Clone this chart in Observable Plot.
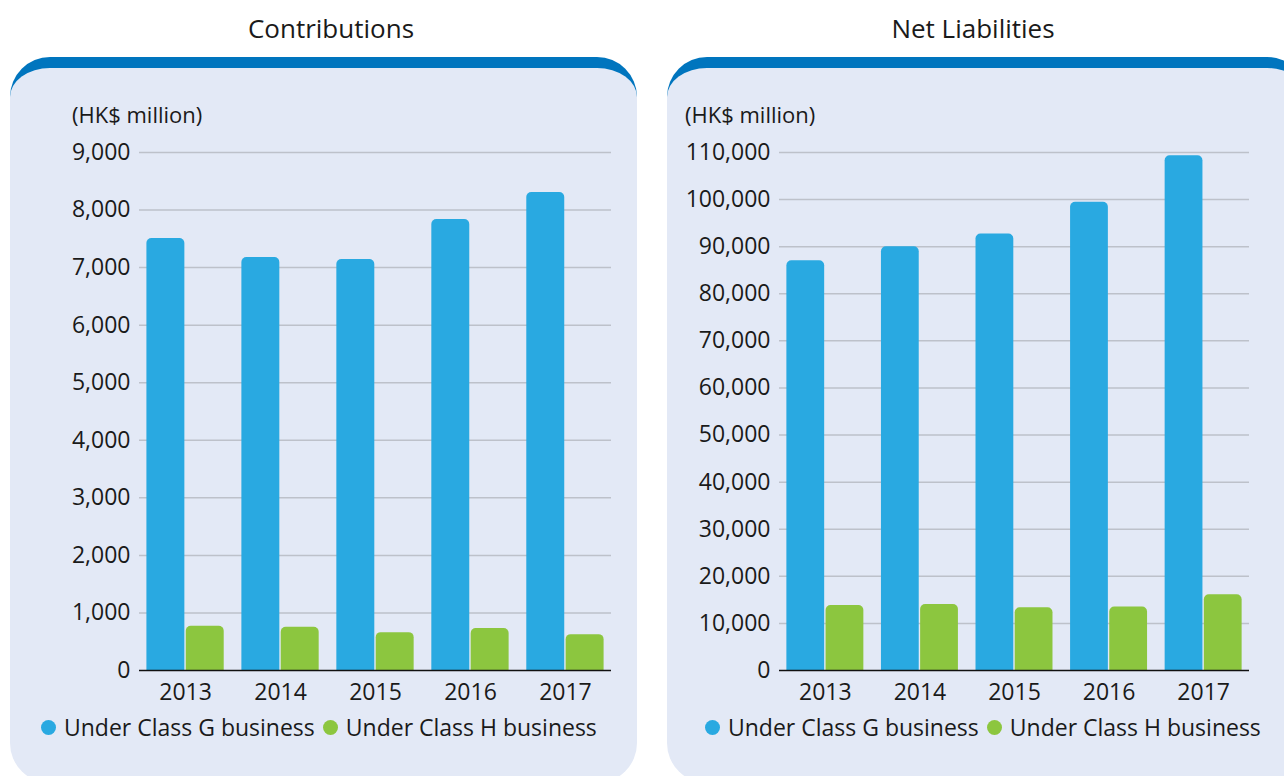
<!DOCTYPE html>
<html>
<head>
<meta charset="utf-8">
<script src="https://cdn.jsdelivr.net/npm/d3@7"></script>
<script src="https://cdn.jsdelivr.net/npm/@observablehq/plot@0.6"></script>
<style>
  html, body { margin: 0; padding: 0; background: #ffffff; }
  body { width: 1284px; height: 776px; position: relative; overflow: hidden; font-family: "Open Sans", "Noto Sans", sans-serif; color: #1a1a1a; }
  .panel { position: absolute; top: 57px; width: 627px; height: 726px; background: #e3e9f6; border-top: 11px solid #0075be; border-radius: 40px; box-sizing: border-box; }
  .title { position: absolute; top: 10px; font-size: 26px; text-align: center; line-height: 36px; }
  .unit { position: absolute; top: 99px; font-size: 22px; line-height: 30px; }
  .chart { position: absolute; top: 100px; }
  .legend { position: absolute; top: 711px; font-size: 23px; line-height: 32px; display: flex; align-items: center; white-space: nowrap; }
  .legend .dot { display: inline-block; width: 15px; height: 15px; border-radius: 50%; margin-right: 8px; }
  .legend .item { display: flex; align-items: center; margin-right: 8px; }
</style>
</head>
<body>
<div class="panel" style="left:10px;"></div>
<div class="panel" style="left:667px; width:640px;"></div>
<div class="title" style="left:0; width:662px;">Contributions</div>
<div class="title" style="left:662px; width:622px;">Net Liabilities</div>
<div class="unit" style="left:72px;">(HK$ million)</div>
<div class="unit" style="left:685px;">(HK$ million)</div>
<div id="left" class="chart" style="left:0;"></div>
<div id="right" class="chart" style="left:640px;"></div>
<div id="legendL" class="legend" style="left:41px;"></div>
<div id="legendR" class="legend" style="left:705px;"></div>
<script>
const years = ["2013", "2014", "2015", "2016", "2017"];
const seriesNames = ["Under Class G business", "Under Class H business"];
const seriesColors = ["#29a9e1", "#8cc63f"];

const contributionsG = [7505, 7175, 7140, 7835, 8305];
const contributionsH = [768, 750, 658, 728, 623];
const contributionsTicks = [0, 1000, 2000, 3000, 4000, 5000, 6000, 7000, 8000, 9000];

const liabilitiesG = [87000, 90000, 92700, 99450, 109300];
const liabilitiesH = [13800, 14000, 13300, 13500, 16100];
const liabilitiesTicks = [0, 10000, 20000, 30000, 40000, 50000, 60000, 70000, 80000, 90000, 100000, 110000];

const fmt = d3.format(",");
const padInner = 0.186, padOuter = 0.078;

function chart({g, h, ticks, width, marginLeft, marginRight}) {
  const data = years.map((year, i) => ({year, g: g[i], h: h[i]}));
  const innerW = width - marginLeft - marginRight;
  const step = innerW / (years.length - padInner + 2 * padOuter);
  const half = step * (1 - padInner) / 2;
  const gap = 0.7;
  return Plot.plot({
    width, height: 640,
    marginLeft, marginRight, marginTop: 52, marginBottom: 70,
    style: {background: "transparent", fontSize: "23px", fontFamily: "'Open Sans', 'Noto Sans', sans-serif", color: "#1a1a1a"},
    x: {domain: years, paddingInner: padInner, paddingOuter: padOuter, round: false, label: null},
    y: {domain: [0, ticks[ticks.length - 1]], label: null},
    marks: [
      Plot.ruleY(ticks.filter(d => d > 0), {stroke: "#bdc1ca", strokeWidth: 1.5}),
      Plot.barY(data, {x: "year", y: "g", fill: seriesColors[0], rx: 5, insetRight: half + gap, insetBottom: -8, clip: true}),
      Plot.barY(data, {x: "year", y: "h", fill: seriesColors[1], rx: 5, insetLeft: half + gap, insetBottom: -8, clip: true}),
      Plot.ruleY([0], {stroke: "#111111", strokeWidth: 1.6}),
      Plot.axisY(ticks, {tickSize: 0, tickPadding: 9, tickFormat: fmt, fontSize: 23, label: null}),
      Plot.axisX({tickSize: 0, tickPadding: 13, fontSize: 23, label: null})
    ]
  });
}

document.getElementById("left").append(chart({g: contributionsG, h: contributionsH, ticks: contributionsTicks, width: 650, marginLeft: 139, marginRight: 39}));
document.getElementById("right").append(chart({g: liabilitiesG, h: liabilitiesH, ticks: liabilitiesTicks, width: 644, marginLeft: 139, marginRight: 35}));

function legend(id) {
  const el = document.getElementById(id);
  seriesNames.forEach((name, i) => {
    const item = document.createElement("span");
    item.className = "item";
    const dot = document.createElement("span");
    dot.className = "dot";
    dot.style.background = seriesColors[i];
    item.append(dot, document.createTextNode(name));
    el.append(item);
  });
}
legend("legendL");
legend("legendR");
</script>
</body>
</html>
